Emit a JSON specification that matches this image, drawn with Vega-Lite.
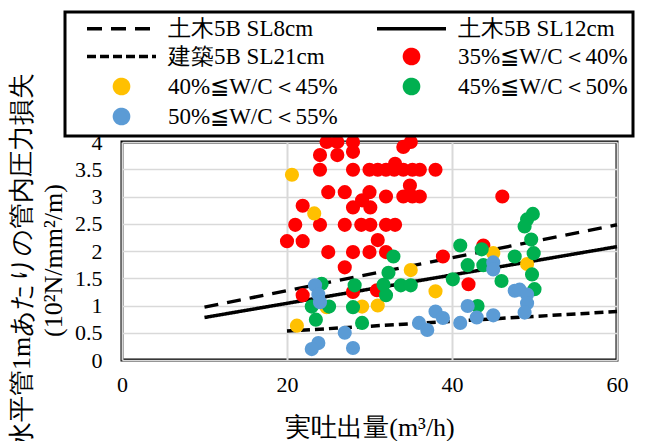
{
  "$schema": "https://vega.github.io/schema/vega-lite/v6.json",
  "width": 495,
  "height": 218,
  "autosize": {"type": "none"},
  "padding": {"left": 122, "top": 142, "right": 34, "bottom": 81},
  "background": "white",
  "config": {
    "view": {"stroke": "black", "strokeWidth": 3},
    "font": "Liberation Serif",
    "axis": {
      "labelFont": "Liberation Serif",
      "titleFont": "Liberation Serif",
      "labelColor": "black",
      "titleColor": "black",
      "titleFontWeight": "normal"
    },
    "legend": {"strokeColor": "black", "strokeWidth": 3, "fillColor": "white"}
  },
  "datasets": {
    "lines": [
      {"series": "土木5B SL8cm", "x": 10, "y": 0.97},
      {"series": "土木5B SL8cm", "x": 60, "y": 2.48},
      {"series": "土木5B SL12cm", "x": 10, "y": 0.78},
      {"series": "土木5B SL12cm", "x": 60, "y": 2.08},
      {"series": "建築5B SL21cm", "x": 20, "y": 0.53},
      {"series": "建築5B SL21cm", "x": 60, "y": 0.89}
    ],
    "points": [
      {"series": "35%≦W/C＜40%", "x": 21.9, "y": 2.83},
      {"series": "35%≦W/C＜40%", "x": 21.0, "y": 2.48},
      {"series": "35%≦W/C＜40%", "x": 20.0, "y": 2.18},
      {"series": "35%≦W/C＜40%", "x": 21.9, "y": 2.18},
      {"series": "35%≦W/C＜40%", "x": 21.9, "y": 1.19},
      {"series": "35%≦W/C＜40%", "x": 24.8, "y": 4.0},
      {"series": "35%≦W/C＜40%", "x": 24.0, "y": 3.76},
      {"series": "35%≦W/C＜40%", "x": 26.1, "y": 4.0},
      {"series": "35%≦W/C＜40%", "x": 26.1, "y": 3.76},
      {"series": "35%≦W/C＜40%", "x": 28.0, "y": 4.0},
      {"series": "35%≦W/C＜40%", "x": 28.0, "y": 3.82},
      {"series": "35%≦W/C＜40%", "x": 24.0, "y": 3.49},
      {"series": "35%≦W/C＜40%", "x": 28.0, "y": 3.49},
      {"series": "35%≦W/C＜40%", "x": 30.0, "y": 3.49},
      {"series": "35%≦W/C＜40%", "x": 31.0, "y": 3.49},
      {"series": "35%≦W/C＜40%", "x": 32.0, "y": 3.49},
      {"series": "35%≦W/C＜40%", "x": 33.0, "y": 3.49},
      {"series": "35%≦W/C＜40%", "x": 34.1, "y": 3.49},
      {"series": "35%≦W/C＜40%", "x": 35.2, "y": 3.49},
      {"series": "35%≦W/C＜40%", "x": 36.1, "y": 3.49},
      {"series": "35%≦W/C＜40%", "x": 38.0, "y": 3.49},
      {"series": "35%≦W/C＜40%", "x": 33.1, "y": 3.6},
      {"series": "35%≦W/C＜40%", "x": 34.1, "y": 3.91},
      {"series": "35%≦W/C＜40%", "x": 35.0, "y": 4.0},
      {"series": "35%≦W/C＜40%", "x": 25.0, "y": 3.08},
      {"series": "35%≦W/C＜40%", "x": 27.0, "y": 3.08},
      {"series": "35%≦W/C＜40%", "x": 30.0, "y": 3.08},
      {"series": "35%≦W/C＜40%", "x": 32.0, "y": 3.0},
      {"series": "35%≦W/C＜40%", "x": 34.9, "y": 3.2},
      {"series": "35%≦W/C＜40%", "x": 34.1, "y": 3.0},
      {"series": "35%≦W/C＜40%", "x": 35.2, "y": 3.0},
      {"series": "35%≦W/C＜40%", "x": 36.1, "y": 3.0},
      {"series": "35%≦W/C＜40%", "x": 29.1, "y": 2.93},
      {"series": "35%≦W/C＜40%", "x": 28.0, "y": 2.8},
      {"series": "35%≦W/C＜40%", "x": 30.1, "y": 2.8},
      {"series": "35%≦W/C＜40%", "x": 24.0, "y": 2.48},
      {"series": "35%≦W/C＜40%", "x": 27.0, "y": 2.48},
      {"series": "35%≦W/C＜40%", "x": 29.0, "y": 2.48},
      {"series": "35%≦W/C＜40%", "x": 30.1, "y": 2.48},
      {"series": "35%≦W/C＜40%", "x": 32.0, "y": 2.48},
      {"series": "35%≦W/C＜40%", "x": 33.1, "y": 2.48},
      {"series": "35%≦W/C＜40%", "x": 31.0, "y": 2.2},
      {"series": "35%≦W/C＜40%", "x": 25.0, "y": 1.98},
      {"series": "35%≦W/C＜40%", "x": 28.0, "y": 1.98},
      {"series": "35%≦W/C＜40%", "x": 30.0, "y": 1.98},
      {"series": "35%≦W/C＜40%", "x": 32.0, "y": 1.98},
      {"series": "35%≦W/C＜40%", "x": 27.0, "y": 1.7},
      {"series": "35%≦W/C＜40%", "x": 38.9, "y": 1.9},
      {"series": "35%≦W/C＜40%", "x": 42.0, "y": 1.39},
      {"series": "35%≦W/C＜40%", "x": 28.0, "y": 1.25},
      {"series": "35%≦W/C＜40%", "x": 30.9, "y": 1.28},
      {"series": "35%≦W/C＜40%", "x": 43.8, "y": 2.1},
      {"series": "35%≦W/C＜40%", "x": 46.1, "y": 3.0},
      {"series": "40%≦W/C＜45%", "x": 20.6, "y": 3.4},
      {"series": "40%≦W/C＜45%", "x": 23.3, "y": 2.69},
      {"series": "40%≦W/C＜45%", "x": 21.2, "y": 0.63},
      {"series": "40%≦W/C＜45%", "x": 24.8, "y": 0.97},
      {"series": "40%≦W/C＜45%", "x": 29.1, "y": 0.98},
      {"series": "40%≦W/C＜45%", "x": 31.0, "y": 1.0},
      {"series": "40%≦W/C＜45%", "x": 35.0, "y": 1.65},
      {"series": "40%≦W/C＜45%", "x": 38.0, "y": 1.26},
      {"series": "40%≦W/C＜45%", "x": 45.0, "y": 1.96},
      {"series": "40%≦W/C＜45%", "x": 49.1, "y": 1.76},
      {"series": "45%≦W/C＜50%", "x": 24.2, "y": 1.4},
      {"series": "45%≦W/C＜50%", "x": 23.0, "y": 0.98},
      {"series": "45%≦W/C＜50%", "x": 23.5, "y": 0.74},
      {"series": "45%≦W/C＜50%", "x": 25.1, "y": 0.98},
      {"series": "45%≦W/C＜50%", "x": 28.2, "y": 1.37},
      {"series": "45%≦W/C＜50%", "x": 28.0, "y": 0.97},
      {"series": "45%≦W/C＜50%", "x": 29.1, "y": 0.68},
      {"series": "45%≦W/C＜50%", "x": 32.9, "y": 1.9},
      {"series": "45%≦W/C＜50%", "x": 32.3, "y": 1.6},
      {"series": "45%≦W/C＜50%", "x": 31.7, "y": 1.38},
      {"series": "45%≦W/C＜50%", "x": 32.0, "y": 1.19},
      {"series": "45%≦W/C＜50%", "x": 33.8, "y": 1.37},
      {"series": "45%≦W/C＜50%", "x": 35.0, "y": 1.37},
      {"series": "45%≦W/C＜50%", "x": 40.1, "y": 1.48},
      {"series": "45%≦W/C＜50%", "x": 41.0, "y": 2.1},
      {"series": "45%≦W/C＜50%", "x": 41.9, "y": 1.74},
      {"series": "45%≦W/C＜50%", "x": 43.1, "y": 0.99},
      {"series": "45%≦W/C＜50%", "x": 43.6, "y": 2.03},
      {"series": "45%≦W/C＜50%", "x": 43.8, "y": 1.74},
      {"series": "45%≦W/C＜50%", "x": 46.0, "y": 1.45},
      {"series": "45%≦W/C＜50%", "x": 47.6, "y": 1.9},
      {"series": "45%≦W/C＜50%", "x": 49.8, "y": 2.68},
      {"series": "45%≦W/C＜50%", "x": 49.1, "y": 2.58},
      {"series": "45%≦W/C＜50%", "x": 48.8, "y": 2.45},
      {"series": "45%≦W/C＜50%", "x": 49.6, "y": 2.21},
      {"series": "45%≦W/C＜50%", "x": 49.9, "y": 1.96},
      {"series": "45%≦W/C＜50%", "x": 49.7, "y": 1.57},
      {"series": "45%≦W/C＜50%", "x": 50.0, "y": 1.3},
      {"series": "50%≦W/C＜55%", "x": 23.4, "y": 1.37},
      {"series": "50%≦W/C＜55%", "x": 23.8, "y": 1.2},
      {"series": "50%≦W/C＜55%", "x": 24.0, "y": 1.06},
      {"series": "50%≦W/C＜55%", "x": 23.8, "y": 0.31},
      {"series": "50%≦W/C＜55%", "x": 23.0, "y": 0.2},
      {"series": "50%≦W/C＜55%", "x": 27.0, "y": 0.5},
      {"series": "50%≦W/C＜55%", "x": 28.0, "y": 0.22},
      {"series": "50%≦W/C＜55%", "x": 36.0, "y": 0.68},
      {"series": "50%≦W/C＜55%", "x": 37.0, "y": 0.55},
      {"series": "50%≦W/C＜55%", "x": 38.0, "y": 0.89},
      {"series": "50%≦W/C＜55%", "x": 38.9, "y": 0.77},
      {"series": "50%≦W/C＜55%", "x": 41.0, "y": 0.68},
      {"series": "50%≦W/C＜55%", "x": 41.9, "y": 0.99},
      {"series": "50%≦W/C＜55%", "x": 43.0, "y": 0.78},
      {"series": "50%≦W/C＜55%", "x": 45.0, "y": 0.82},
      {"series": "50%≦W/C＜55%", "x": 45.0, "y": 1.79},
      {"series": "50%≦W/C＜55%", "x": 45.0, "y": 1.66},
      {"series": "50%≦W/C＜55%", "x": 47.6, "y": 1.27},
      {"series": "50%≦W/C＜55%", "x": 48.2, "y": 1.29},
      {"series": "50%≦W/C＜55%", "x": 49.1, "y": 1.2},
      {"series": "50%≦W/C＜55%", "x": 49.1, "y": 1.04},
      {"series": "50%≦W/C＜55%", "x": 48.8, "y": 0.87}
    ]
  },
  "layer": [
    {
      "data": {"name": "lines"},
      "mark": {"type": "line", "strokeWidth": 3.5},
      "encoding": {
        "x": {
          "field": "x", "type": "quantitative",
          "scale": {"domain": [0, 60], "nice": false},
          "axis": {
            "values": [0, 20, 40, 60], "domain": false, "ticks": false,
            "grid": true, "gridColor": "#d9d9d9", "gridWidth": 2,
            "labelFontSize": 22, "labelPadding": 14, "labelFlush": false,
            "title": "実吐出量(m³/h)", "titleFontSize": 26, "titlePadding": 19
          }
        },
        "y": {
          "field": "y", "type": "quantitative",
          "scale": {"domain": [0, 4], "nice": false},
          "axis": {
            "tickCount": 8,
            "labelExpr": "datum.value + ''",
            "domain": false, "ticks": false, "labelOverlap": false,
            "labelBaseline": "middle", "labelSeparation": 0,
            "grid": true, "gridColor": "#d9d9d9", "gridWidth": 1.5,
            "labelFontSize": 22, "labelPadding": 20,
            "title": ["水平管1mあたりの管内圧力損失", "(10²N/mm²/m)"],
            "titleFontSize": 26, "titleLineHeight": 32, "titlePadding": 8, "titleY": 118
          }
        },
        "color": {
          "field": "series", "type": "nominal",
          "scale": {
            "domain": ["土木5B SL8cm", "建築5B SL21cm", "40%≦W/C＜45%", "50%≦W/C＜55%", "土木5B SL12cm", "35%≦W/C＜40%", "45%≦W/C＜50%"],
            "range": ["black", "black", "#ffc000", "#5b9bd5", "black", "#ff0000", "#00b050"]
          },
          "legend": {
            "title": null, "orient": "none", "legendX": -57, "legendY": -130,
            "columns": 2, "padding": 5, "columnPadding": 22, "rowPadding": 1,
            "symbolSize": 225, "symbolOffset": 40, "labelOffset": 35,
            "symbolStrokeWidth": 3.5,
            "labelFont": "Liberation Serif", "labelFontSize": 23,
            "labelColor": "black", "labelLimit": 400,
            "encode": {
              "symbols": {
                "update": {
                  "shape": {"signal": "indexof(['土木5B SL8cm','土木5B SL12cm','建築5B SL21cm'], datum.value) >= 0 ? 'M-4.6,0H4.6' : 'circle'"},
                  "size": {"signal": "indexof(['土木5B SL8cm','土木5B SL12cm','建築5B SL21cm'], datum.value) >= 0 ? 225 : 200"},
                  "strokeDash": {"signal": "datum.value === '土木5B SL8cm' ? [15, 9] : datum.value === '建築5B SL21cm' ? [9, 4] : [1, 0]"},
                  "stroke": {"signal": "indexof(['土木5B SL8cm','土木5B SL12cm','建築5B SL21cm'], datum.value) >= 0 ? 'black' : 'transparent'"},
                  "fill": {"signal": "indexof(['土木5B SL8cm','土木5B SL12cm','建築5B SL21cm'], datum.value) >= 0 ? 'transparent' : scale('color', datum.value)"},
                  "strokeWidth": {"value": 3.5},
                  "opacity": {"value": 1}
                }
              }
            }
          }
        },
        "strokeDash": {
          "field": "series", "type": "nominal",
          "scale": {"domain": ["土木5B SL8cm", "土木5B SL12cm", "建築5B SL21cm"], "range": [[14, 9], [1, 0], [9, 5]]},
          "legend": null
        }
      }
    },
    {
      "data": {"name": "points"},
      "mark": {"type": "circle", "size": 200, "opacity": 1},
      "encoding": {
        "x": {"field": "x", "type": "quantitative"},
        "y": {"field": "y", "type": "quantitative"},
        "color": {"field": "series", "type": "nominal"}
      }
    }
  ]
}
